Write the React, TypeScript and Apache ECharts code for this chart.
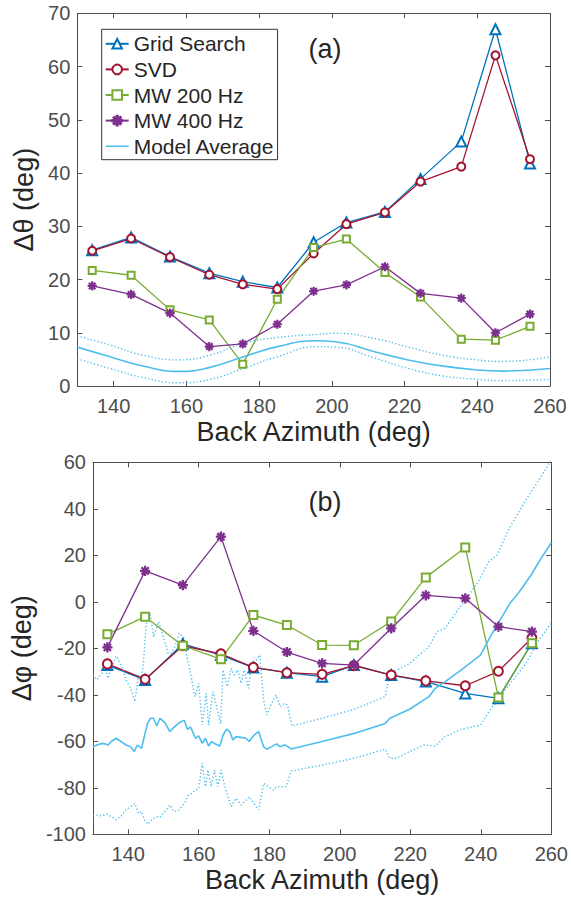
import React, { useEffect, useRef } from 'react';
import * as echarts from 'echarts';

// ---------- data ----------
const azimuth = [134.1, 144.8, 155.5, 166.3, 175.5, 185, 195, 204, 214.6, 224.4, 235.6, 245, 254.5];
const xTicks = [140, 160, 180, 200, 220, 240, 260];

// panel (a): delta theta (deg)
const gridSearchTheta = [25.5, 27.9, 24.3, 21.2, 19.6, 18.5, 27.0, 30.7, 32.7, 38.9, 45.9, 67.0, 41.8];
const svdTheta = [25.4, 27.7, 24.2, 20.9, 19.1, 18.2, 24.9, 30.4, 32.6, 38.4, 41.2, 62.1, 42.6];
const mw200Theta = [21.7, 20.8, 14.3, 12.4, 4.1, 16.3, 26.0, 27.6, 21.3, 16.7, 8.8, 8.6, 11.2];
const mw400Theta = [18.8, 17.2, 13.7, 7.4, 7.9, 11.6, 17.8, 19.0, 22.4, 17.4, 16.5, 10.0, 13.5];

const topModelX = [130, 139, 148, 158, 166.5, 175.7, 185, 196, 201, 212, 221, 230.5, 240, 247, 260];
const topModelMean = [7.3, 5.5, 3.75, 2.75, 3.5, 5.5, 7.4, 8.5, 8.3, 6.4, 4.9, 3.75, 3.0, 2.8, 3.3];
const topModelUpper = [9.4, 7.7, 5.8, 4.9, 5.8, 8.0, 9.1, 9.7, 9.9, 8.9, 7.3, 5.8, 4.9, 4.6, 5.5];
const topModelLower = [5.1, 3.3, 1.6, 0.6, 1.25, 3.3, 5.5, 7.4, 7.3, 5.2, 3.3, 1.9, 1.25, 1.0, 1.25];

// panel (b): delta phi (deg)
const gridSearchPhi = [-27.2, -33.6, -18.1, -22.9, -28.3, -30.5, -32.2, -27.2, -31.5, -34.3, -39.4, -41.5, -17.8];
const svdPhi = [-26.7, -33.3, -18.9, -22.4, -28.2, -30.5, -31.2, -27.5, -31.5, -34.0, -36.1, -29.9, -15.6];
const mw200Phi = [-14.0, -6.4, -18.9, -24.7, -5.7, -10.0, -18.6, -18.7, -8.5, 10.5, 23.4, -41.2, -17.8];
const mw400Phi = [-19.6, 13.3, 7.2, 28.0, -12.5, -21.6, -26.5, -27.2, -11.4, 2.8, 1.5, -10.7, -12.8];

const bottomModelMean = [
  [130.0, -62.3], [131.1, -61.6], [132.5, -60.9], [133.4, -61.1], [134.3, -61.6], [135.2, -60.1], [136.6, -58.7],
  [138.0, -60.1], [139.4, -61.6], [140.7, -62.3], [141.7, -64.4], [142.6, -61.6], [143.8, -63.0], [144.6, -57.7],
  [145.5, -52.3], [146.3, -50.1], [147.2, -50.1], [148.1, -53.4], [149.0, -50.1], [150.4, -52.0], [151.8, -55.8],
  [153.2, -53.7], [154.5, -52.0], [155.9, -50.9], [156.8, -54.8], [157.7, -53.9], [159.1, -58.7], [160.0, -57.7],
  [161.0, -60.9], [161.9, -58.7], [162.8, -62.0], [163.7, -60.1], [164.6, -61.1], [166.0, -62.0], [166.9, -57.3],
  [167.9, -54.8], [168.8, -55.8], [169.7, -59.4], [170.6, -58.0], [172.0, -58.3], [173.4, -58.7], [174.3, -60.1],
  [175.7, -57.3], [177.0, -55.8], [178.4, -62.3], [179.3, -63.4], [180.7, -62.3], [182.1, -61.1], [183.0, -62.3],
  [184.4, -61.6], [185.3, -62.3], [186.2, -63.3], [195.0, -60.1], [204.1, -56.6], [212.9, -52.3], [214.2, -50.1],
  [219.8, -46.2], [225.3, -40.8], [227.1, -37.2], [229.9, -34.3], [234.5, -29.3], [239.9, -22.9], [242.7, -15.0],
  [245.5, -7.8], [248.3, -0.6], [251.0, 4.4], [254.6, 12.3], [256.5, 17.3], [260.0, 25.4],
];
const bottomModelUpper = [
  [130.0, -31.5], [131.1, -33.6], [132.5, -30.8], [133.4, -27.9], [134.3, -32.9], [135.7, -26.5], [136.6, -23.3],
  [138.0, -27.2], [139.4, -33.6], [140.7, -37.2], [141.9, -42.9], [142.9, -31.5], [143.8, -33.6], [144.4, -25.0],
  [145.3, -4.9], [146.3, -5.7], [147.2, -15.0], [148.6, -8.6], [149.9, -15.0], [151.3, -22.1], [152.2, -22.1],
  [153.2, -19.3], [154.5, -13.5], [155.9, -15.7], [156.8, -25.0], [157.7, -30.8], [158.9, -40.8], [160.0, -35.1],
  [161.0, -53.0], [162.1, -39.4], [162.8, -53.0], [164.0, -38.6], [165.1, -45.1], [166.2, -52.3], [166.9, -29.3],
  [168.1, -36.5], [169.2, -28.6], [170.1, -31.5], [171.1, -29.3], [172.0, -35.1], [172.9, -29.3], [174.1, -37.2],
  [175.0, -26.5], [176.1, -25.8], [177.3, -22.9], [178.4, -42.2], [179.3, -48.7], [180.7, -43.7], [181.9, -40.1],
  [183.1, -45.1], [184.3, -43.7], [185.2, -44.4], [186.4, -53.4], [195.0, -50.1], [204.1, -46.2], [212.9, -40.8],
  [214.2, -30.8], [219.8, -26.5], [225.3, -19.3], [227.6, -12.8], [229.9, -11.4], [234.5, -1.4], [239.0, 8.0],
  [242.3, 17.3], [244.6, 20.1], [248.3, 32.3], [252.8, 43.8], [256.5, 52.4], [260.0, 61.0],
];
const bottomModelLower = [
  [130.0, -92.1], [131.1, -91.7], [132.5, -92.1], [133.9, -91.3], [135.2, -92.4], [136.6, -93.8], [138.0, -92.1],
  [139.4, -89.5], [140.7, -88.1], [141.9, -86.7], [142.9, -91.0], [143.8, -90.2], [144.6, -93.8], [145.5, -95.7],
  [146.7, -93.8], [147.9, -92.4], [149.0, -92.7], [150.4, -90.2], [151.8, -87.4], [153.0, -90.2], [154.5, -89.5],
  [155.9, -86.7], [157.1, -83.1], [158.0, -82.4], [159.1, -81.0], [160.0, -80.3], [161.0, -69.5], [161.9, -79.5],
  [162.6, -72.3], [163.5, -79.5], [164.5, -72.3], [165.4, -79.5], [166.3, -72.3], [167.4, -79.5], [168.3, -83.8],
  [169.2, -88.1], [170.6, -84.5], [172.0, -87.4], [173.4, -85.3], [174.3, -83.8], [175.7, -86.7], [177.0, -89.5],
  [178.4, -78.1], [179.8, -79.5], [181.2, -81.0], [182.1, -79.5], [183.5, -79.5], [184.8, -79.5], [186.2, -72.8],
  [195.0, -70.2], [204.1, -67.3], [212.9, -63.4], [214.2, -67.3], [216.1, -67.3], [219.8, -64.4], [223.9, -61.6],
  [227.1, -62.0], [229.9, -58.0], [234.5, -54.8], [239.9, -53.0], [242.7, -46.5], [245.5, -40.8], [249.2, -33.6],
  [252.8, -26.5], [256.5, -16.4], [260.0, -9.2],
];

// ---------- styling ----------
const FONT = '"Liberation Sans", Arial, Helvetica, sans-serif';
const AXIS = '#4d4d4d';
const TEXT = '#262626';
const C_GRID = '#0072BD';
const C_SVD = '#A2142F';
const C_MW200 = '#77AC30';
const C_MW400 = '#7E2F8E';
const C_MODEL = '#4DBEEE';

const ASTERISK =
  'path://M-0.12,-1L0.12,-1L0.12,1L-0.12,1Z' +
  'M-1,-0.12L1,-0.12L1,0.12L-1,0.12Z' +
  'M-0.792,-0.622L-0.622,-0.792L0.792,0.622L0.622,0.792Z' +
  'M-0.792,0.622L0.622,-0.792L0.792,-0.622L-0.622,0.792Z';

// legend swatch: a thin horizontal bar inside a 23x12 box (degenerate corners keep the box size)
const LINE_ICON = 'path://M0,0L0.01,0L0.01,0.01Z M0,5.2L23,5.2L23,6.8L0,6.8Z M22.99,12L23,12L23,11.99Z';

const pairs = (xs: number[], ys: number[]) => xs.map((x, i) => [x, ys[i]]);

function xAxes(gridIndex: number, nameGap: number) {
  const common = {
    gridIndex,
    type: 'value',
    min: 130,
    max: 260,
    axisLine: { onZero: false, lineStyle: { color: AXIS, width: 1 } },
    axisTick: { inside: true, length: 5, customValues: xTicks, lineStyle: { color: AXIS } },
    splitLine: { show: false },
  };
  return [
    {
      ...common,
      position: 'bottom',
      axisLabel: { customValues: xTicks, fontSize: 20, color: AXIS, margin: 10, fontFamily: FONT },
      name: 'Back Azimuth (deg)',
      nameLocation: 'middle',
      nameGap,
      nameTextStyle: { fontSize: 27, color: TEXT, fontFamily: FONT },
    },
    { ...common, position: 'top', axisLabel: { show: false } },
  ];
}

function yAxes(gridIndex: number, min: number, max: number, interval: number, name: string, nameGap: number) {
  const common = {
    gridIndex,
    type: 'value',
    min,
    max,
    interval,
    axisLine: { onZero: false, lineStyle: { color: AXIS, width: 1 } },
    axisTick: { inside: true, length: 5, lineStyle: { color: AXIS } },
    splitLine: { show: false },
  };
  return [
    {
      ...common,
      position: 'left',
      axisLabel: { fontSize: 20, color: AXIS, margin: 7, fontFamily: FONT },
      name,
      nameLocation: 'middle',
      nameGap,
      nameTextStyle: { fontSize: 27, color: TEXT, fontFamily: FONT },
    },
    { ...common, position: 'right', axisLabel: { show: false } },
  ];
}

function markerSeries(name: string, ys: number[], color: string, symbol: string, size: number, axisIdx: number) {
  return {
    name,
    type: 'line',
    xAxisIndex: axisIdx,
    yAxisIndex: axisIdx,
    data: pairs(azimuth, ys),
    symbol,
    symbolSize: size,
    showAllSymbol: true,
    lineStyle: { color, width: 1.3 },
    itemStyle: { color, borderColor: color, borderWidth: 1.2 },
    emphasis: { disabled: true },
  };
}

function modelSeries(name: string, data: number[][], dotted: boolean, axisIdx: number, smooth: boolean) {
  return {
    name,
    type: 'line',
    xAxisIndex: axisIdx,
    yAxisIndex: axisIdx,
    data,
    symbol: 'none',
    smooth: smooth ? 0.5 : false,
    lineStyle: dotted
      ? { color: C_MODEL, width: 1.4, type: [1.3, 2.2] }
      : { color: C_MODEL, width: 1.6 },
    itemStyle: { color: C_MODEL },
    emphasis: { disabled: true },
  };
}

const option = {
  animation: false,
  backgroundColor: '#ffffff',
  textStyle: { fontFamily: FONT },
  grid: [
    { left: 77.3, top: 13.3, width: 472.7, height: 372.7, containLabel: false },
    { left: 81, top: 462.3, width: 471.7, height: 372, containLabel: false },
  ],
  xAxis: [...xAxes(0, 32), ...xAxes(1, 32)],
  yAxis: [...yAxes(0, 0, 70, 10, 'Δθ (deg)', 36), ...yAxes(1, -100, 60, 20, 'Δφ (deg)', 50)],
  legend: {
    left: 101.7,
    top: 29.3,
    orient: 'vertical',
    itemWidth: 23,
    itemHeight: 12,
    itemGap: 4.6,
    padding: [4, 3, 3, 3],
    borderColor: '#333',
    borderWidth: 1,
    backgroundColor: '#fff',
    textStyle: { fontSize: 21, color: TEXT, fontFamily: FONT },
    data: [
      'Grid Search',
      'SVD',
      'MW 200 Hz',
      'MW 400 Hz',
      { name: 'Model Average', icon: LINE_ICON, itemStyle: { color: C_MODEL, borderWidth: 0 } },
    ],
  },
  graphic: [
    { type: 'text', x: 325, y: 49, style: { text: '(a)', fontSize: 27, fill: TEXT, align: 'center', verticalAlign: 'middle', fontFamily: FONT } },
    { type: 'text', x: 325, y: 502, style: { text: '(b)', fontSize: 27, fill: TEXT, align: 'center', verticalAlign: 'middle', fontFamily: FONT } },
  ],
  series: [
    markerSeries('Grid Search', gridSearchTheta, C_GRID, 'emptyTriangle', 10, 0),
    markerSeries('SVD', svdTheta, C_SVD, 'emptyCircle', 8, 0),
    markerSeries('MW 200 Hz', mw200Theta, C_MW200, 'emptyRect', 7, 0),
    markerSeries('MW 400 Hz', mw400Theta, C_MW400, ASTERISK, 8, 0),
    modelSeries('Model Average', pairs(topModelX, topModelMean), false, 0, true),
    modelSeries('Model Average upper', pairs(topModelX, topModelUpper), true, 0, true),
    modelSeries('Model Average lower', pairs(topModelX, topModelLower), true, 0, true),

    markerSeries('Grid Search', gridSearchPhi, C_GRID, 'emptyTriangle', 10, 2),
    markerSeries('SVD', svdPhi, C_SVD, 'emptyCircle', 9, 2),
    markerSeries('MW 200 Hz', mw200Phi, C_MW200, 'emptyRect', 8, 2),
    markerSeries('MW 400 Hz', mw400Phi, C_MW400, ASTERISK, 9, 2),
    modelSeries('Model Average', bottomModelMean, false, 2, false),
    modelSeries('Model Average upper', bottomModelUpper, true, 2, false),
    modelSeries('Model Average lower', bottomModelLower, true, 2, false),
  ],
};

export default function App() {
  const ref = useRef<HTMLDivElement>(null);
  useEffect(() => {
    const chart = echarts.init(ref.current as HTMLDivElement, null, { renderer: 'svg' });
    chart.setOption(option as any);
    return () => chart.dispose();
  }, []);
  return (
    <div
      ref={ref}
      style={{ position: 'absolute', left: 0, top: 0, width: 571, height: 898, background: '#fff' }}
    />
  );
}
